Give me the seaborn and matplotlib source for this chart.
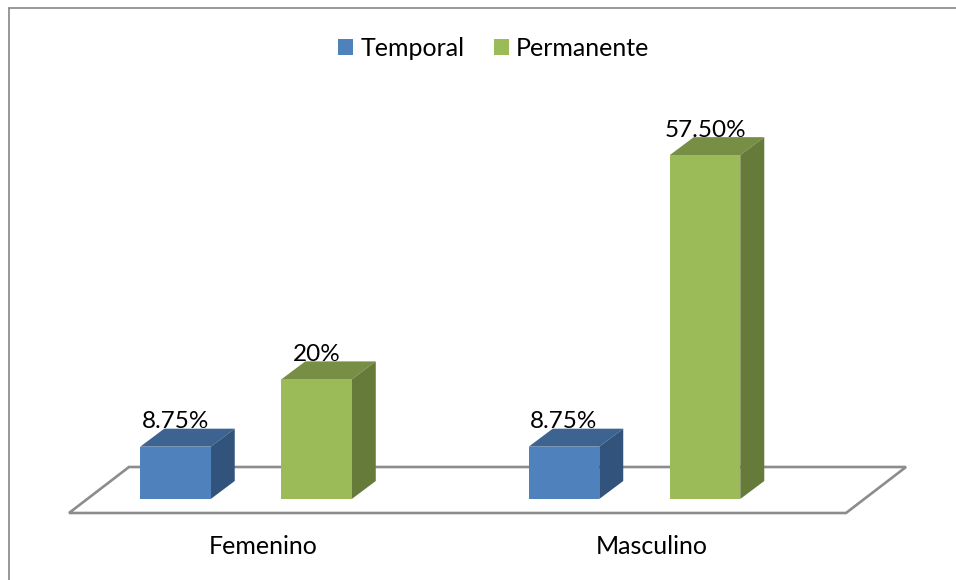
import seaborn as sns
import pandas as pd
import matplotlib.pyplot as plt
from matplotlib.patches import Polygon
from matplotlib.lines import Line2D
from matplotlib.transforms import Affine2D, ScaledTranslation

categorias = ["Femenino", "Masculino"]
series = ["Temporal", "Permanente"]
temporal = [8.75, 8.75]
permanente = [20, 57.5]
etiquetas_temporal = ["8.75%", "8.75%"]
etiquetas_permanente = ["20%", "57.50%"]

colores = {"Temporal": "#4F81BD", "Permanente": "#9BBB59"}
techo = {"Temporal": "#3D6491", "Permanente": "#778E45"}
lado = {"Temporal": "#32547C", "Permanente": "#667A39"}
LINEA = "#8C8C8C"
FUENTE = 18
DX, DY = 24, 18

df = pd.DataFrame({
    "Sexo": categorias * 2,
    "Tipo": [series[0]] * 2 + [series[1]] * 2,
    "Pct": temporal + permanente,
})

sns.set_theme(style="white")
plt.rcParams["font.family"] = ["Lato", "DejaVu Sans"]

W, H = 956, 580
fig = plt.figure(figsize=(W / 100, H / 100), dpi=100)
# pixels of the image, y going down
px = Affine2D().scale(1, -1).translate(0, H)

# axes box: x 69..846, y 513..100 in pixels, zero line at y=499
ax = fig.add_axes([69 / W, (H - 513) / H, 777 / W, 413 / H])
ax.patch.set_alpha(0)
PX_X = 388.5
PX_Y = 5.98

# floor under the bars
suelo = Polygon([(69, 513), (846, 513), (906, 467), (129, 467)], closed=True, clip_on=False,
                transform=px, facecolor="white", edgecolor=LINEA, lw=1.9, zorder=0.5)
ax.add_patch(suelo)

sns.barplot(data=df, x="Sexo", y="Pct", hue="Tipo", order=categorias, hue_order=series,
            palette=colores, saturation=1, width=0.726, gap=0.5, ax=ax, zorder=3,
            edgecolor="none", linewidth=0)

ax.set_xlim(-177 / PX_X, 600 / PX_X)
ax.set_ylim(-14 / PX_Y, 399 / PX_Y)
ax.set_xlabel("")
ax.set_ylabel("")
ax.set_yticks([])
sns.despine(ax=ax, left=True, bottom=True)

# depth faces for the bars
for cont, nombre, textos in zip(ax.containers, series, [etiquetas_temporal, etiquetas_permanente]):
    for bar in cont:
        x0, y0 = ax.transData.transform((bar.get_x(), 0))
        x1, y1 = ax.transData.transform((bar.get_x() + bar.get_width(), bar.get_height()))
        ax.add_patch(Polygon([(x0, y1), (x1, y1), (x1 + DX, y1 + DY), (x0 + DX, y1 + DY)],
                             transform=None, facecolor=techo[nombre], edgecolor="none", zorder=2.5))
        ax.add_patch(Polygon([(x1, y0), (x1, y1), (x1 + DX, y1 + DY), (x1 + DX, y0 + DY)],
                             transform=None, facecolor=lado[nombre], edgecolor="none", zorder=2.5))
    ax.bar_label(cont, labels=textos, padding=10.5, fontsize=17.5, color="black", zorder=5)

ax.tick_params(axis="x", length=0, pad=16, labelsize=FUENTE, labelcolor="black")
ax.set_xticks(range(len(categorias)), categorias)
corrimiento = ScaledTranslation(17 / 100, 0, fig.dpi_scale_trans)
for lab in ax.get_xticklabels():
    lab.set_transform(lab.get_transform() + corrimiento)

leg = ax.legend(loc="center", bbox_to_anchor=(494, 48), bbox_transform=px, ncol=2, frameon=False,
                fontsize=FUENTE, handlelength=0.6, handleheight=0.6, handletextpad=0.3,
                columnspacing=1.15, borderpad=0, title=None)
for t in leg.get_texts():
    t.set_color("black")

# frame of the chart area, only top and left show in the crop
fig.add_artist(Line2D([8.5, 956], [8, 8], transform=px, color="#868686", lw=1.2))
fig.add_artist(Line2D([8.5, 8.5], [8, 580], transform=px, color="#868686", lw=1.2))

fig.savefig("out.png", dpi=100)
